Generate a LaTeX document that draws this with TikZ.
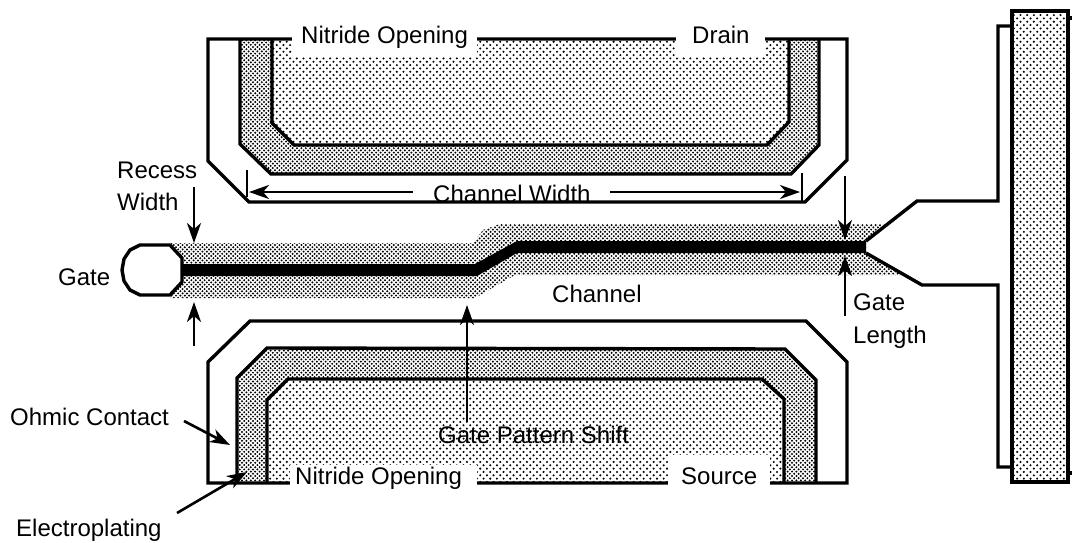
\documentclass[tikz,border=0pt]{standalone}
\usepackage{fontspec}
\setmainfont{Liberation Sans}
\usetikzlibrary{arrows.meta,patterns}
\pgfdeclarepatternformonly{lightdots}{\pgfqpoint{-1.3pt}{-1.3pt}}{\pgfqpoint{5.37pt}{5.37pt}}{\pgfqpoint{6.67pt}{6.67pt}}{%
  \pgfpathcircle{\pgfqpoint{0pt}{0pt}}{1.15pt}\pgfpathcircle{\pgfqpoint{3.33pt}{3.33pt}}{1.15pt}\pgfusepath{fill}}
\pgfdeclarepatternformonly{darkdots}{\pgfqpoint{-1.2pt}{-1.2pt}}{\pgfqpoint{3.2pt}{3.2pt}}{\pgfqpoint{4.4pt}{4.4pt}}{%
  \pgfpathcircle{\pgfqpoint{0pt}{0pt}}{1.1pt}\pgfpathcircle{\pgfqpoint{2.2pt}{2.2pt}}{1.1pt}\pgfusepath{fill}}
\tikzset{
  lightfill/.style={pattern=lightdots,pattern color=black},
  darkfill/.style={pattern=darkdots,pattern color=black},
  outline/.style={draw=black,line width=3.4pt,line join=miter},
  lbl/.style={font=\fontsize{24}{24}\selectfont,inner sep=0pt,anchor=base west},
  gapbox/.style={fill=white,draw=none},
  arrowline/.style={line width=2.6pt,-{Stealth[length=20pt,width=14pt,inset=6pt]}},
  tick/.style={line width=2.2pt}
}
\begin{document}
\begin{tikzpicture}[x=1pt,y=-1pt]
\useasboundingbox (0,0) rectangle (1072,542);
% drain
\fill[lightfill] (272,39)--(272,123)--(294,145)--(767,145)--(789,122)--(789,39)--cycle;
\fill[darkfill] (240,39)--(240,144)--(271,174)--(791,174)--(819,145)--(819,39)--(789,39)--(789,122)--(767,145)--(294,145)--(272,123)--(272,39)--cycle;
\draw[outline] (272,39)--(272,123)--(294,145)--(767,145)--(789,122)--(789,39);
\draw[outline] (240,39)--(240,144)--(271,174)--(791,174)--(819,145)--(819,39);
\draw[outline] (208,39)--(847,39)--(847,160)--(805,202)--(249,202)--(208,161)--cycle;
\fill[gapbox] (292,22) rectangle (477,57);
\fill[gapbox] (676,22) rectangle (765,57);
% source
\fill[lightfill] (267,483)--(267,400)--(288,379)--(762,379)--(784,399)--(784,483)--cycle;
\fill[darkfill] (237,483)--(237,378)--(267,348)--(785,349)--(816,380)--(816,483)--(784,483)--(784,399)--(762,379)--(288,379)--(267,400)--(267,483)--cycle;
\draw[outline] (267,483)--(267,400)--(288,379)--(762,379)--(784,399)--(784,483);
\draw[outline] (237,483)--(237,378)--(267,348)--(785,349)--(816,380)--(816,483);
\draw[outline] (208,483)--(208,362)--(250,321)--(806,321)--(847,362)--(847,483)--cycle;
\fill[gapbox] (290,465) rectangle (477,495);
\fill[gapbox] (668,455) rectangle (770,495);
% gate shading
\fill[darkfill] (170,243)--(473,243)--(483,230)--(500,224)--(885,224)--(866,241)--(866,253)--(905,275)--(515,275)--(475,298)--(170,298)--cycle;
% gate pad and finger
\filldraw[fill=white,draw=black,line width=3.4pt,line join=round] (140,245)--(170,245)--(182,258)--(182,282)--(170,295)--(140,295)--(130,290)--(124,281)--(122,270)--(124,259)--(130,250)--cycle;
\fill[black] (182,264)--(475,264)--(517,241)--(866,241)--(866,253)--(517,253)--(477,276)--(182,276)--cycle;
\draw[outline] (866,241)--(917,201)--(998,201)--(998,26)--(1012,26);
\draw[outline] (866,253)--(922,285)--(998,285)--(998,467)--(1012,467);
% bar
\fill[white] (1012,11) rectangle (1068,482);
\fill[lightfill] (1012,11) rectangle (1068,482);
\draw[outline] (1012,11) rectangle (1068,482);
\draw[outline] (1068,18)--(1072,18);
\draw[outline] (1068,473)--(1072,473);
% labels
\node[lbl] (nitop) at (301,43) {Nitride Opening};
\node[lbl] (drain) at (692,43) {Drain};
\node[lbl] (nitbot) at (295,484) {Nitride Opening};
\node[lbl] (source) at (681,484) {Source};
\node[lbl] (recess) at (117,178) {Recess};
\node[lbl] (width) at (117,210) {Width};
\node[lbl] (gate) at (58,285) {Gate};
\node[lbl] (channel) at (552,302) {Channel};
\node[lbl] (gatel) at (853,310) {Gate};
\node[lbl] (length) at (853,343) {Length};
\node[lbl] (chw) at (433,202) {Channel Width};
\node[lbl] (shift) at (438,443) {Gate Pattern Shift};
\node[lbl] (ohmic) at (10,425) {Ohmic Contact};
\node[lbl] (electro) at (16,536.5) {Electroplating};
% dimension arrows
\coordinate (cwl) at (413,192); \coordinate (cwlt) at (249,192);
\coordinate (cwr) at (610,192); \coordinate (cwrt) at (800,192);
\draw[tick] (247,170)--(247,197);
\draw[tick] (802,173)--(802,202);
\draw[arrowline] (cwl)--(cwlt);
\draw[arrowline] (cwr)--(cwrt);
\coordinate (ra) at (194,187); \coordinate (rat) at (194,243);
\coordinate (rb) at (194,346); \coordinate (rbt) at (194,302);
\draw[arrowline] (ra)--(rat);
\draw[arrowline] (rb)--(rbt);
\coordinate (ga) at (845,176); \coordinate (gat) at (845,240);
\coordinate (gb) at (845,316); \coordinate (gbt) at (845,256);
\draw[arrowline] (ga)--(gat);
\draw[arrowline] (gb)--(gbt);
\coordinate (sa) at (467,422); \coordinate (sat) at (467,305);
\draw[arrowline] (sa)--(sat);
\coordinate (oa) at (184,421); \coordinate (oat) at (230,445);
\draw[arrowline] (oa)--(oat);
\coordinate (ea) at (177,513); \coordinate (eat) at (247,472);
\draw[arrowline] (ea)--(eat);
\end{tikzpicture}
\end{document}
